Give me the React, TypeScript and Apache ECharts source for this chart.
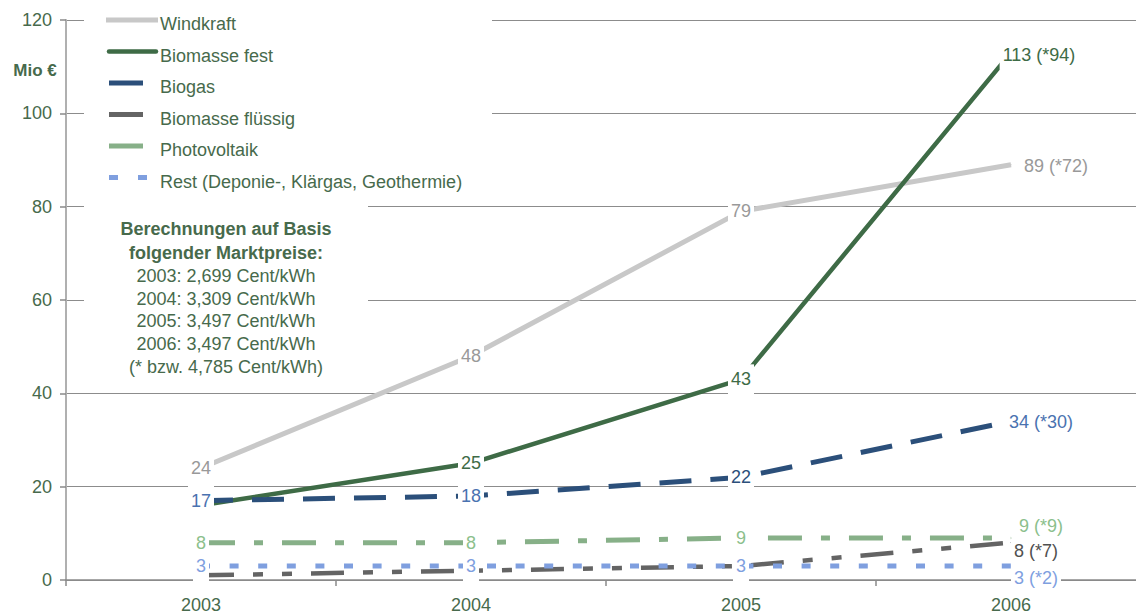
import React, { useEffect, useRef } from "react";
import * as echarts from "echarts";

// Erlöse nach Sparte, Mio €
const years = ["2003", "2004", "2005", "2006"];
const windkraft = [24, 48, 79, 89];
const biomasseFest = [16, 25, 43, 113];
const biogas = [17, 18, 22, 34];
const biomasseFluessig = [1, 2, 3, 8];
const photovoltaik = [8, 8, 9, 9];
const rest = [3, 3, 3, 3];

// 2006 values at the alternative price (4,785 Cent/kWh)
const alt2006Windkraft = 72;
const alt2006BiomasseFest = 94;
const alt2006Biogas = 30;
const alt2006BiomasseFluessig = 7;
const alt2006Photovoltaik = 9;
const alt2006Rest = 2;

const yTicks = [0, 20, 40, 60, 80, 100, 120];

const legendNames = [
  "Windkraft",
  "Biomasse fest",
  "Biogas",
  "Biomasse flüssig",
  "Photovoltaik",
  "Rest (Deponie-, Klärgas, Geothermie)",
];

const noteLines = [
  "Berechnungen auf Basis",
  "folgender Marktpreise:",
  "2003: 2,699 Cent/kWh",
  "2004: 3,309 Cent/kWh",
  "2005: 3,497 Cent/kWh",
  "2006: 3,497 Cent/kWh",
  "(* bzw. 4,785 Cent/kWh)",
];

const FONT = "Arial, 'Liberation Sans', Helvetica, sans-serif";
const TEXT_GREEN = "#476a4c";

type SeriesSpec = {
  name: string;
  values: number[];
  alt: number;
  color: string;
  labelColors: string[];
  width: number;
  dash: number[] | "solid";
  shown: boolean[];
  endOffset: [number, number];
};

const specs: SeriesSpec[] = [
  {
    name: legendNames[0],
    values: windkraft,
    alt: alt2006Windkraft,
    color: "#c8c8c8",
    labelColors: ["#999999", "#999999", "#999999", "#999999"],
    width: 5,
    dash: "solid",
    shown: [true, true, true, true],
    endOffset: [45, 1],
  },
  {
    name: legendNames[1],
    values: biomasseFest,
    alt: alt2006BiomasseFest,
    color: "#3e6b46",
    labelColors: ["#3e6b46", "#3e6b46", "#3e6b46", "#3e6b46"],
    width: 4.5,
    dash: "solid",
    shown: [false, true, true, true],
    endOffset: [28, 2],
  },
  {
    name: legendNames[2],
    values: biogas,
    alt: alt2006Biogas,
    color: "#2b4f7a",
    labelColors: ["#4a72b0", "#4a72b0", "#2b4f7a", "#4a72b0"],
    width: 5,
    dash: [32, 19],
    shown: [true, true, true, true],
    endOffset: [30, 1],
  },
  {
    name: legendNames[3],
    values: biomasseFluessig,
    alt: alt2006BiomasseFluessig,
    color: "#646464",
    labelColors: ["#505050", "#505050", "#505050", "#505050"],
    width: 4.5,
    dash: [33, 19, 10, 19, 10, 19],
    shown: [false, false, false, true],
    endOffset: [25, 8],
  },
  {
    name: legendNames[4],
    values: photovoltaik,
    alt: alt2006Photovoltaik,
    color: "#87b088",
    labelColors: ["#8cbf8c", "#8cbf8c", "#8cbf8c", "#8cbf8c"],
    width: 5,
    dash: [34, 19, 9, 19],
    shown: [true, true, true, true],
    endOffset: [30, -12],
  },
  {
    name: legendNames[5],
    values: rest,
    alt: alt2006Rest,
    color: "#7f9fdf",
    labelColors: ["#7f9fdf", "#7f9fdf", "#7f9fdf", "#7f9fdf"],
    width: 5,
    dash: [9, 19.6],
    shown: [true, true, true, true],
    endOffset: [25, 12],
  },
];

function buildSeries() {
  return specs.map((s, si) => ({
    name: s.name,
    type: "line",
    z: 2 + si * 0.01,
    symbol: "circle",
    symbolSize: 1,
    showSymbol: true,
    itemStyle: { color: s.color },
    lineStyle: { color: s.color, width: s.width, type: s.dash, cap: "butt" },
    emphasis: { disabled: true },
    silent: true,
    data: s.values.map((v, i) => {
      const last = i === s.values.length - 1;
      return {
        value: v,
        label: {
          show: s.shown[i],
          position: "inside",
          formatter: last ? `${v} (*${s.alt})` : `${v}`,
          offset: last ? s.endOffset : [0, 0],
          color: s.labelColors[i],
          fontFamily: FONT,
          fontSize: 18,
          lineHeight: 22,
          backgroundColor: "#ffffff",
          padding: [4, 3],
        },
      };
    }),
  }));
}

function buildGraphic() {
  const els: any[] = [];
  // white panels behind the key and the price note
  els.push({ type: "rect", z: 1, shape: { x: 84, y: 0, width: 408, height: 197 }, style: { fill: "#ffffff" }, silent: true });
  els.push({ type: "rect", z: 1, shape: { x: 84, y: 197, width: 284, height: 188 }, style: { fill: "#ffffff" }, silent: true });

  const rowY = [24, 55.5, 87, 118.5, 150, 181.5];
  specs.forEach((s, i) => {
    const ly = rowY[i] - 4;
    if (i === 0) {
      els.push({ type: "line", z: 3, shape: { x1: 106, y1: ly, x2: 158, y2: ly }, style: { stroke: s.color, lineWidth: 5 } });
    } else if (i === 1) {
      els.push({ type: "line", z: 3, shape: { x1: 109, y1: ly, x2: 156, y2: ly }, style: { stroke: s.color, lineWidth: 4.5, lineCap: "round" } });
    } else if (i === 5) {
      els.push({ type: "line", z: 3, shape: { x1: 109, y1: ly, x2: 118, y2: ly }, style: { stroke: s.color, lineWidth: 5 } });
      els.push({ type: "line", z: 3, shape: { x1: 138, y1: ly, x2: 147, y2: ly }, style: { stroke: s.color, lineWidth: 5 } });
    } else {
      els.push({ type: "line", z: 3, shape: { x1: 109, y1: ly, x2: 143, y2: ly }, style: { stroke: s.color, lineWidth: 5 } });
    }
    els.push({
      type: "text",
      z: 3,
      x: 160,
      y: rowY[i],
      style: { text: s.name, fill: TEXT_GREEN, font: `18px ${FONT}`, textAlign: "left", textVerticalAlign: "middle" },
    });
  });

  const noteY = [229, 253, 276, 298.5, 321, 344, 367];
  noteLines.forEach((t, i) => {
    els.push({
      type: "text",
      z: 3,
      x: 226,
      y: noteY[i],
      style: {
        text: t,
        fill: TEXT_GREEN,
        font: `${i < 2 ? "bold " : ""}18px ${FONT}`,
        textAlign: "center",
        textVerticalAlign: "middle",
      },
    });
  });

  els.push({
    type: "text",
    z: 3,
    x: 35,
    y: 70,
    style: { text: "Mio €", fill: TEXT_GREEN, font: `bold 17px ${FONT}`, textAlign: "center", textVerticalAlign: "middle" },
  });
  return els;
}

export default function App() {
  const ref = useRef<HTMLDivElement>(null);

  useEffect(() => {
    if (!ref.current) return;
    const chart = echarts.init(ref.current, null, { renderer: "svg" });
    chart.setOption({
      animation: false,
      backgroundColor: "#ffffff",
      grid: { left: 66, top: 20, width: 1080, height: 560, containLabel: false },
      xAxis: {
        type: "category",
        data: years,
        boundaryGap: true,
        axisLine: { show: true, lineStyle: { color: "#8a8a8a", width: 1.5 } },
        axisTick: { show: true, alignWithLabel: false, length: 6, lineStyle: { color: "#8a8a8a", width: 1.5 } },
        axisLabel: { color: TEXT_GREEN, fontFamily: FONT, fontSize: 18, margin: 16 },
        splitLine: { show: false },
      },
      yAxis: {
        type: "value",
        min: yTicks[0],
        max: yTicks[yTicks.length - 1],
        interval: yTicks[1] - yTicks[0],
        axisLine: { show: true, lineStyle: { color: "#b0b0b0", width: 2 } },
        axisTick: { show: true, length: 6, lineStyle: { color: "#8a8a8a", width: 1.5 } },
        axisLabel: { color: TEXT_GREEN, fontFamily: FONT, fontSize: 18, margin: 14 },
        splitLine: { show: true, lineStyle: { color: "#8c8c8c", width: 1.2 } },
      },
      series: buildSeries(),
      graphic: { elements: buildGraphic() },
    });
    return () => chart.dispose();
  }, []);

  return (
    <div style={{ position: "fixed", left: 0, top: 0, width: 1136, height: 616, overflow: "hidden", background: "#fff" }}>
      <div ref={ref} style={{ width: 1146, height: 616 }} />
    </div>
  );
}
